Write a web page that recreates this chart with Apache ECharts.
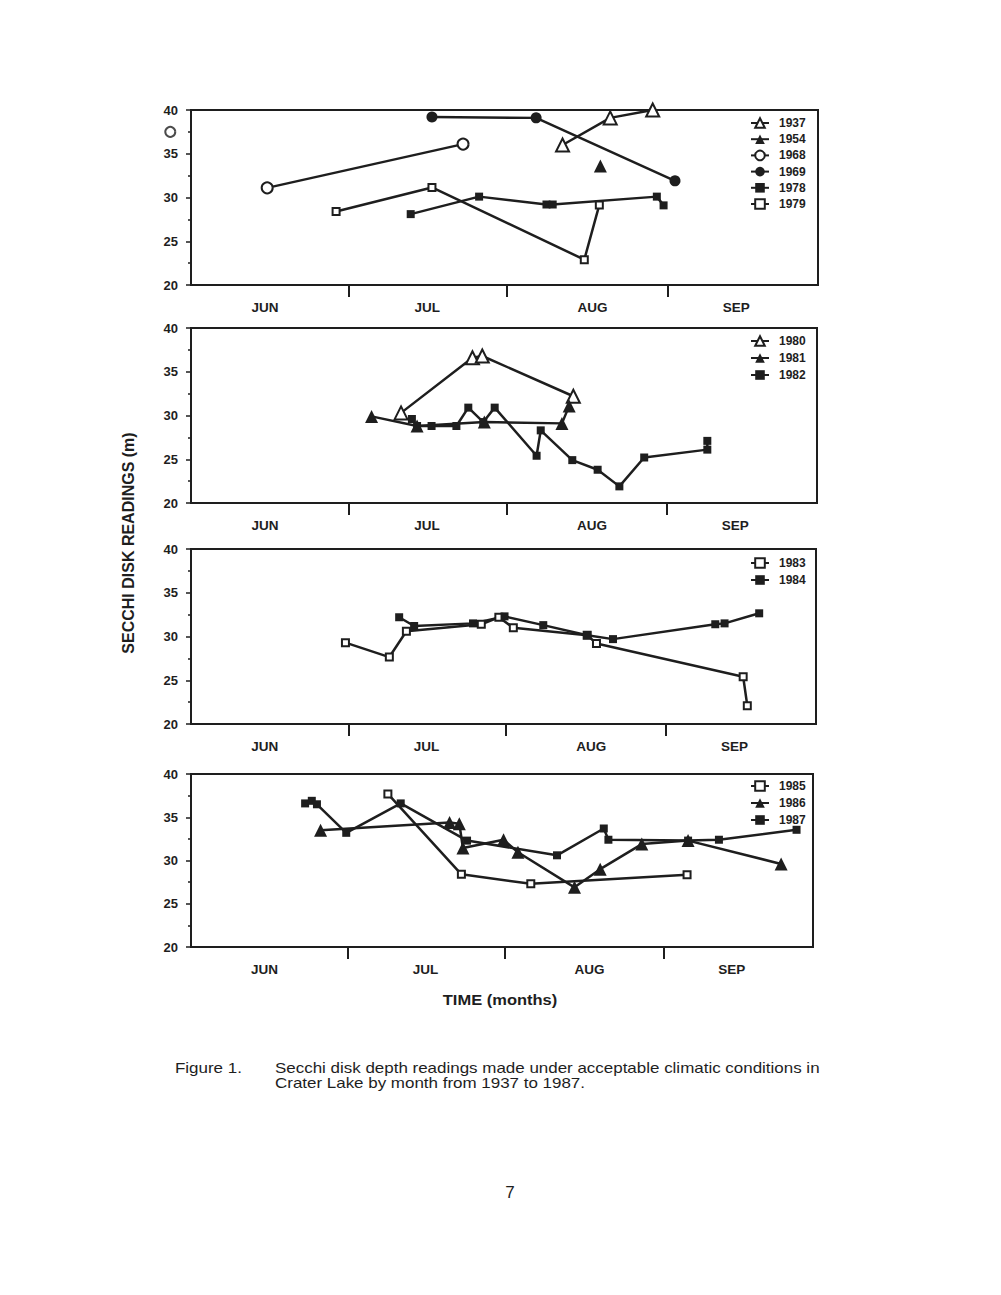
<!DOCTYPE html>
<html>
<head>
<meta charset="utf-8">
<script src="https://cdn.jsdelivr.net/npm/echarts@6/dist/echarts.min.js"></script>
<style>
html,body{margin:0;padding:0;background:#fff;}
#c{width:1001px;height:1295px;}
</style>
</head>
<body>
<div id="c"></div>
<script>
// x values: days since June 1; y values: Secchi depth (m)
const months = ['JUN', 'JUL', 'AUG', 'SEP'];
const monthMid = [14.3, 45.6, 77.5, 105.2];
const monthBounds = [30.5, 61, 92];
const yTicks = [20, 25, 30, 35, 40];

// Panel 1
const d1937 = [71.7, 80.9, 89.1];        const v1937 = [36.0, 39.1, 40.0];
const d1954 = [79.0];                    const v1954 = [33.6];
const d1968 = [14.7, 52.5];              const v1968 = [31.1, 36.1];
const d1968b = [-4.0];                   const v1968b = [37.5];
const d1969 = [46.5, 66.6, 93.4];        const v1969 = [39.2, 39.1, 31.9];
const d1978 = [42.4, 55.6, 68.6, 69.8, 89.9, 91.2]; const v1978 = [28.1, 30.1, 29.2, 29.2, 30.1, 29.1];
const d1979 = [28.0, 46.5, 75.9, 78.8];  const v1979 = [28.4, 31.15, 22.9, 29.15];

// Panel 2
const d1980 = [40.6, 54.4, 56.3, 73.9];  const v1980 = [30.3, 36.6, 36.8, 32.2];
const d1981 = [34.9, 43.7, 56.7, 71.7, 73.1]; const v1981 = [29.9, 28.8, 29.25, 29.1, 31.1];
const d1982 = [42.7, 43.7, 46.5, 51.3, 53.6, 56.5, 58.7, 66.8, 67.6, 73.7, 78.6, 82.8, 87.6, 99.8, 99.8];
const v1982 = [29.6, 28.8, 28.8, 28.8, 30.9, 29.25, 30.9, 25.4, 28.3, 24.9, 23.8, 21.9, 25.2, 26.1, 27.1];

// Panel 3
const d1983 = [29.9, 38.4, 41.7, 56.2, 59.6, 62.4, 76.7, 78.5, 106.9, 107.7];
const v1983 = [29.3, 27.65, 30.6, 31.4, 32.2, 31.0, 30.15, 29.2, 25.4, 22.1];
const d1984 = [40.3, 43.2, 54.6, 60.7, 68.2, 76.7, 81.7, 101.5, 103.3, 110.0];
const v1984 = [32.2, 31.2, 31.5, 32.3, 31.3, 30.15, 29.7, 31.4, 31.5, 32.65];

// Panel 4
const d1985 = [38.3, 52.6, 66.1, 96.5];  const v1985 = [37.7, 28.4, 27.3, 28.35];
const d1986 = [25.2, 50.3, 52.2, 52.9, 60.8, 63.6, 74.6, 79.6, 87.7, 96.7, 114.8];
const v1986 = [33.5, 34.4, 34.25, 31.45, 32.4, 30.95, 26.9, 29.0, 31.9, 32.3, 29.6];
const d1987 = [22.2, 23.5, 24.5, 30.2, 40.8, 53.7, 71.2, 80.3, 81.2, 96.7, 102.7, 117.8];
const v1987 = [36.6, 36.9, 36.5, 33.2, 36.6, 32.3, 30.6, 33.7, 32.4, 32.3, 32.4, 33.55];

const INK = '#1e1e1e';
const FONT = 'Liberation Sans';
const zip = (a, b) => a.map((x, i) => [x, b[i]]);

function ser(name, xs, ys, g, symbol, filled, size, opts) {
  return Object.assign({
    name: name, type: 'line', xAxisIndex: g, yAxisIndex: g,
    data: zip(xs, ys), symbol: symbol, symbolSize: size, clip: false,
    lineStyle: {color: INK, width: 2.5},
    itemStyle: {color: filled ? INK : '#fff', borderColor: INK, borderWidth: filled ? 0 : 2},
    emphasis: {disabled: true}, animation: false
  }, opts || {});
}

const grids = [
  {left: 191, width: 627, top: 110, height: 175},
  {left: 191, width: 626, top: 328, height: 175},
  {left: 191, width: 625, top: 549, height: 175},
  {left: 191, width: 622, top: 774, height: 173}
];

const xAxes = grids.map((g, i) => ({
  type: 'value', gridIndex: i, min: 0, max: 121,
  axisLine: {show: true, lineStyle: {color: INK, width: 2}},
  splitLine: {show: false},
  axisTick: {show: true, customValues: monthBounds, length: 12, inside: false, lineStyle: {color: INK, width: 2}},
  axisLabel: {
    customValues: monthMid, margin: 15,
    fontFamily: FONT, fontWeight: 'bold', fontSize: 13.5, color: INK,
    formatter: v => months[monthMid.indexOf(v)] || ''
  }
}));

const yAxes = grids.map((g, i) => ({
  type: 'value', gridIndex: i, min: yTicks[0], max: yTicks[yTicks.length - 1], interval: 5,
  axisLine: {show: true, lineStyle: {color: INK, width: 2}},
  splitLine: {show: false},
  axisTick: {show: true, inside: false, length: 5, lineStyle: {color: INK, width: 1.5}},
  minorTick: {show: true, splitNumber: 2, length: 3, lineStyle: {color: INK, width: 1.5}},
  axisLabel: {margin: 13, fontFamily: FONT, fontWeight: 'bold', fontSize: 13, color: INK}
}));

const series = [
  ser('1937', d1937, v1937, 0, 'triangle', false, 13),
  ser('1954', d1954, v1954, 0, 'triangle', true, 13),
  ser('1968', d1968, v1968, 0, 'circle', false, 11),
  ser('1968', d1968b, v1968b, 0, 'circle', false, 10, {type: 'scatter'}),
  ser('1969', d1969, v1969, 0, 'circle', true, 11),
  ser('1978', d1978, v1978, 0, 'rect', true, 8),
  ser('1979', d1979, v1979, 0, 'rect', false, 7),

  ser('1980', d1980, v1980, 1, 'triangle', false, 13),
  ser('1981', d1981, v1981, 1, 'triangle', true, 13),
  ser('1982', d1982, v1982, 1, 'rect', true, 8),

  ser('1983', d1983, v1983, 2, 'rect', false, 7),
  ser('1984', d1984, v1984, 2, 'rect', true, 8),

  ser('1985', d1985, v1985, 3, 'rect', false, 7),
  ser('1986', d1986, v1986, 3, 'triangle', true, 13),
  ser('1987', d1987, v1987, 3, 'rect', true, 8)
];

function legend(names, top, gap) {
  return {
    data: names, orient: 'vertical', left: 750, top: top, padding: 0,
    itemWidth: 18, itemHeight: 12, itemGap: gap,
    selectedMode: false,
    textStyle: {fontFamily: FONT, fontWeight: 'bold', fontSize: 12, color: INK, padding: [0, 0, 0, 5]}
  };
}

const chart = echarts.init(document.getElementById('c'), null, {renderer: 'svg'});
chart.setOption({
  backgroundColor: '#fff',
  animation: false,
  grid: grids.map(g => Object.assign({show: true, borderColor: INK, borderWidth: 2, backgroundColor: 'transparent'}, g)),
  xAxis: xAxes,
  yAxis: yAxes,
  legend: [
    legend(['1937', '1954', '1968', '1969', '1978', '1979'], 117, 4.2),
    legend(['1980', '1981', '1982'], 335, 5),
    legend(['1983', '1984'], 557, 5),
    legend(['1985', '1986', '1987'], 780, 5)
  ],
  series: series,
  graphic: [
    {type: 'text', x: 128, y: 543, rotation: Math.PI / 2,
     style: {text: 'SECCHI DISK READINGS (m)', fill: INK, font: 'bold 16px "Liberation Sans"', align: 'center', verticalAlign: 'middle'}},
    {type: 'text', x: 500, y: 1000, scaleX: 1.1,
     style: {text: 'TIME (months)', fill: INK, font: 'bold 15px "Liberation Sans"', align: 'center', verticalAlign: 'middle'}},
    {type: 'text', x: 175, y: 1068, scaleX: 1.17,
     style: {text: 'Figure 1.', fill: INK, font: '14.5px "Liberation Sans"', verticalAlign: 'middle'}},
    {type: 'text', x: 275, y: 1068, scaleX: 1.17,
     style: {text: 'Secchi disk depth readings made under acceptable climatic conditions in', fill: INK, font: '14.5px "Liberation Sans"', verticalAlign: 'middle'}},
    {type: 'text', x: 275, y: 1083, scaleX: 1.17,
     style: {text: 'Crater Lake by month from 1937 to 1987.', fill: INK, font: '14.5px "Liberation Sans"', verticalAlign: 'middle'}},
    {type: 'text', x: 510, y: 1192,
     style: {text: '7', fill: INK, font: '17px "Liberation Sans"', align: 'center', verticalAlign: 'middle'}}
  ]
});
</script>
</body>
</html>
